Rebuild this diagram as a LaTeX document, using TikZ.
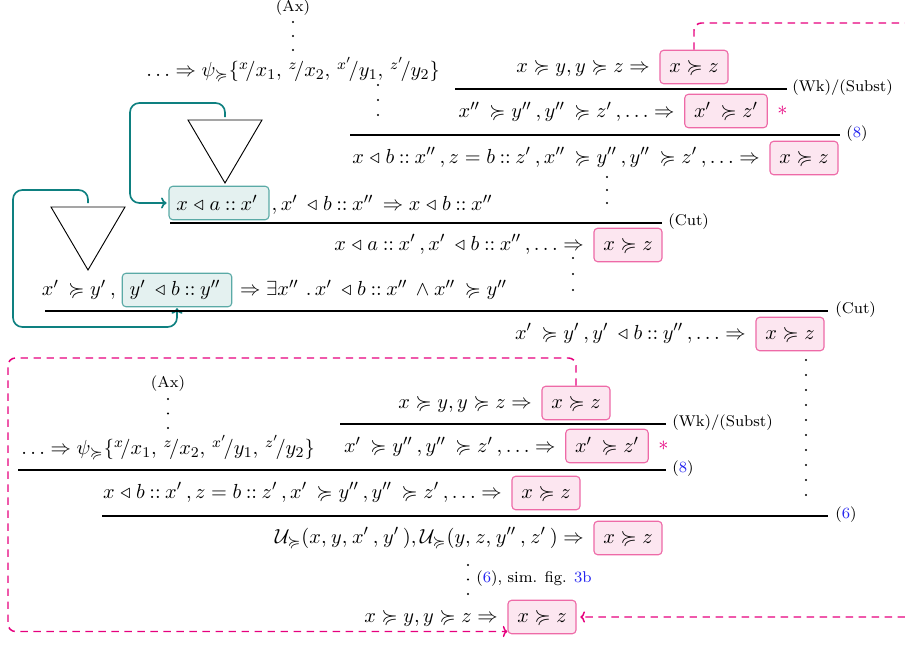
\documentclass[tikz,border=0pt]{standalone}
\usepackage{amsmath,amssymb}
\usetikzlibrary{arrows.meta}
\definecolor{pinkfill}{HTML}{FCE6F0}
\definecolor{pinkdraw}{HTML}{EE6AA7}
\definecolor{mag}{HTML}{E6007E}
\definecolor{tealc}{HTML}{0E8080}
\definecolor{tealfill}{HTML}{E4F1F0}
\definecolor{tealdraw}{HTML}{5AAAA6}
\definecolor{refblue}{HTML}{2424F0}
\newcommand{\pge}{\succcurlyeq}
\newcommand{\tri}{\mathrel{\triangleleft}}
\newcommand{\cns}{\mathbin{::}}
\newcommand{\q}{'\mkern3.5mu}
\newcommand{\qq}{''\mkern3.5mu}
\newcommand{\sbst}{\{{}^{x}\!/x_1,\, {}^{z}\!/x_2,\, {}^{x'}\!/y_1,\, {}^{z'}\!/y_2\}}
\newcommand{\vdts}[4]{\foreach \k in {0,...,#4}{\fill ({#1},{#2+\k*#3}) circle (0.55pt);}}
\tikzset{
  pbox/.style={draw=pinkdraw, fill=pinkfill, rounded corners=2pt, inner xsep=5pt, inner ysep=0pt, minimum height=18pt, line width=0.6pt},
  tbox/.style={draw=tealdraw, fill=tealfill, rounded corners=2pt, inner xsep=4pt, inner ysep=0pt, minimum height=18pt, line width=0.6pt},
  txt/.style={inner sep=0pt},
  rule/.style={line width=0.6pt},
  lbl/.style={font=\fontsize{8.4}{10}\selectfont, inner sep=0pt, anchor=west},
  pdash/.style={draw=mag, line width=0.8pt, dash pattern=on 4pt off 3pt, rounded corners=4pt},
  tarrow/.style={draw=tealc, line width=0.9pt, rounded corners=5pt, -{To[length=3pt,width=6pt]}},
  tri/.style={line width=0.5pt}
}
\begin{document}
\fontsize{11.2}{13.4}\selectfont
\begin{tikzpicture}[x=0.538pt, y=-0.538pt]
\useasboundingbox (0,0) rectangle (905,645);
% ---------------- upper derivation ----------------
\node[lbl, anchor=center] (ax1) at (293,8) {(Ax)};
\vdts{293}{22}{14}{2}
\node[txt] (psi1) at (293,70) {$\ldots \Rightarrow \psi_{\pge}\sbst$};
\vdts{378}{85}{15}{2}

\node[pbox] (b1) at (694,67) {$x \pge z$};
\node[txt, anchor=base east] (t1) at ([xshift=-5pt]b1.base west) {$x \pge y, y \pge z \Rightarrow$};
\coordinate (r1a) at (455,89); \coordinate (r1b) at (787,89);
\draw[rule] (r1a) -- (r1b);
\node[lbl] (l1) at (792,88) {(Wk)/(Subst)};

\node[pbox] (b2) at (726,111) {$x\q \pge z'$};
\node[txt, anchor=base east] (t2) at ([xshift=-5pt]b2.base west) {$x\qq \pge y\qq, y\qq \pge z\q, \ldots \Rightarrow$};
\node[txt, text=mag, anchor=west] (s1) at ([xshift=5pt]b2.east) {$*$};
\coordinate (r2a) at (350,135); \coordinate (r2b) at (840,135);
\draw[rule] (r2a) -- (r2b);
\node[lbl] (l2) at (846,134) {(\textcolor{refblue}{8})};

\node[pbox] (b3) at (804,158) {$x \pge z$};
\node[txt, anchor=base east] (t3) at ([xshift=-5pt]b3.base west) {$x \tri b \cns x\qq, z = b \cns z\q, x\qq \pge y\qq, y\qq \pge z\q, \ldots \Rightarrow$};
\vdts{607}{177}{13}{2}

% triangle 1 and its link
\draw[tri] (188,120) -- (262,120) -- (225,183) -- cycle;
\coordinate (c1) at (225,117);
\node[tbox] (tb1) at (219,203) {$x \tri a \cns x\q$};
\node[txt, anchor=base west] (t4) at ([xshift=1pt]tb1.base east) {$, x\q \tri b \cns x\qq \Rightarrow x \tri b \cns x''$};
\draw[tarrow] (c1) |- (130,103) |- ([xshift=-1pt]tb1.west);

\coordinate (r3a) at (170,223); \coordinate (r3b) at (662,223);
\draw[rule] (r3a) -- (r3b);
\node[lbl] (l3) at (668,222) {(Cut)};

\node[pbox] (b4) at (628,245) {$x \pge z$};
\node[txt, anchor=base east] (t5) at ([xshift=-5pt]b4.base west) {$x \tri a \cns x\q, x\q \tri b \cns x\qq, \ldots \Rightarrow$};
\vdts{573}{258}{16}{2}

% triangle 2 and its link
\draw[tri] (51,207) -- (125,207) -- (88,270) -- cycle;
\coordinate (c2) at (88,203);
\node[tbox] (tb2) at (177,290) {$y\q \tri b \cns y\qq$};
\node[txt, anchor=base east] (t6) at ([xshift=-3pt]tb2.base west) {$x\q \pge y\q,$};
\node[txt, anchor=base west] (t7) at ([xshift=4pt]tb2.base east) {$\Rightarrow \exists x\qq \,.\, x\q \tri b \cns x\qq \wedge x\qq \pge y''$};
\coordinate (l2y) at (0,327);
\draw[tarrow] (c2) |- (13,190) |- (tb2.south |- l2y) -- ([yshift=-0.5pt]tb2.south);

\coordinate (r4a) at (45,311); \coordinate (r4b) at (828,311);
\draw[rule] (r4a) -- (r4b);
\node[lbl] (l4) at (835,310) {(Cut)};

\node[pbox] (b5) at (790,334) {$x \pge z$};
\node[txt, anchor=base east] (t8) at ([xshift=-5pt]b5.base west) {$x\q \pge y\q, y\q \tri b \cns y\qq, \ldots \Rightarrow$};
\vdts{806}{360}{15}{9}

% ---------------- lower derivation ----------------
\node[lbl, anchor=center] (ax2) at (168,384) {(Ax)};
\vdts{168}{399}{14.5}{2}
\node[txt] (psi2) at (168,448) {$\ldots \Rightarrow \psi_{\pge}\sbst$};

\node[pbox] (b6) at (576,403) {$x \pge z$};
\node[txt, anchor=base east] (t9) at ([xshift=-5pt]b6.base west) {$x \pge y, y \pge z \Rightarrow$};
\coordinate (r5a) at (340,424); \coordinate (r5b) at (666,424);
\draw[rule] (r5a) -- (r5b);
\node[lbl] (l5) at (672,423) {(Wk)/(Subst)};

\node[pbox] (b7) at (607,446) {$x\q \pge z'$};
\node[txt, anchor=base east] (t10) at ([xshift=-5pt]b7.base west) {$x\q \pge y\qq, y\qq \pge z\q, \ldots \Rightarrow$};
\node[txt, text=mag, anchor=west] (s2) at ([xshift=5pt]b7.east) {$*$};
\coordinate (r6a) at (18,470); \coordinate (r6b) at (666,470);
\draw[rule] (r6a) -- (r6b);
\node[lbl] (l6) at (672,469) {(\textcolor{refblue}{8})};

\node[pbox] (b8) at (546,493) {$x \pge z$};
\node[txt, anchor=base east] (t11) at ([xshift=-5pt]b8.base west) {$x \tri b \cns x\q, z = b \cns z\q, x\q \pge y\qq, y\qq \pge z\q, \ldots \Rightarrow$};
\coordinate (r7a) at (102,516); \coordinate (r7b) at (828,516);
\draw[rule] (r7a) -- (r7b);
\node[lbl] (l7) at (835,515) {(\textcolor{refblue}{6})};

\node[pbox] (b9) at (628,538) {$x \pge z$};
\node[txt, anchor=base east] (t12) at ([xshift=-5pt]b9.base west) {$\mathcal{U}_{\pge}(x,\mkern1mu y,\mkern1mu x\q,\mkern1mu y\q),\mathcal{U}_{\pge}(y,\mkern1mu z,\mkern1mu y\qq,\mkern1mu z\q) \Rightarrow$};
\vdts{468}{565}{14.5}{2}
\node[lbl] (l8) at (476,579) {(\textcolor{refblue}{6}), sim. fig. \textcolor{refblue}{3b}};

\node[pbox] (b10) at (542,617) {$x \pge z$};
\node[txt, anchor=base east] (t13) at ([xshift=-5pt]b10.base west) {$x \pge y, y \pge z \Rightarrow$};

% ---------------- pink dashed links ----------------
\coordinate (far1) at (930,23);
\coordinate (far2) at (930,617);
\draw[pdash, -{To[length=2.5pt,width=6pt]}, shorten >=2pt] (b1.north) |- (far1) -- (far2) -- (b10.east);
\coordinate (lft) at (8,358);
\coordinate (e10) at ([yshift=1.5pt]b10.south west);
\draw[pdash, -{To[length=2.5pt,width=6pt]}] (b6.north) |- (lft) |- (e10);
\end{tikzpicture}
\end{document}
